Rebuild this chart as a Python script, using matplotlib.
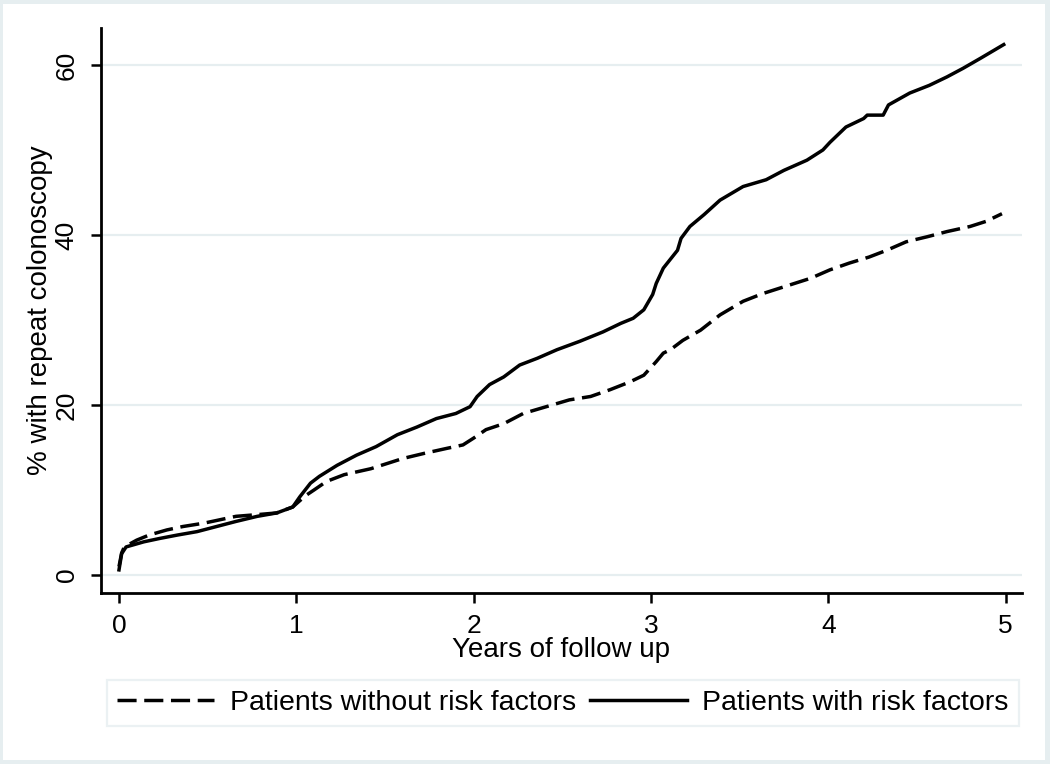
import matplotlib
matplotlib.use('Agg')
import matplotlib.pyplot as plt
from matplotlib.patches import Rectangle

# cumulative % with repeat colonoscopy
years_with = [0.0, 0.015, 0.04, 0.14, 0.23, 0.33, 0.44, 0.55, 0.66, 0.78, 0.89, 0.98,
              1.02, 1.08, 1.13, 1.23, 1.34, 1.45, 1.57, 1.68, 1.79, 1.90, 1.98,
              2.02, 2.09, 2.17, 2.26, 2.36, 2.47, 2.60, 2.73, 2.83, 2.90, 2.96,
              3.01, 3.03, 3.07, 3.15, 3.17, 3.22, 3.30, 3.39, 3.52, 3.65, 3.75, 3.88, 3.97,
              4.01, 4.10, 4.20, 4.22, 4.31, 4.34, 4.46, 4.57, 4.67, 4.76, 4.86, 4.99]
pct_with = [0.6, 2.5, 3.3, 3.9, 4.3, 4.7, 5.1, 5.7, 6.3, 6.9, 7.3, 8.0,
            9.2, 10.8, 11.6, 12.9, 14.1, 15.1, 16.5, 17.4, 18.4, 19.0, 19.8,
            21.0, 22.4, 23.3, 24.7, 25.5, 26.5, 27.5, 28.6, 29.6, 30.2, 31.2,
            33.0, 34.3, 36.1, 38.2, 39.6, 41.0, 42.4, 44.1, 45.7, 46.5, 47.6, 48.8, 50.0,
            50.9, 52.7, 53.7, 54.1, 54.1, 55.3, 56.7, 57.6, 58.6, 59.6, 60.8, 62.4]

years_without = [0.0, 0.015, 0.03, 0.10, 0.17, 0.27, 0.36, 0.48, 0.57, 0.66, 0.78, 0.89, 0.98,
                 1.05, 1.10, 1.17, 1.27, 1.42, 1.51, 1.60, 1.72, 1.85, 1.94,
                 2.00, 2.07, 2.17, 2.28, 2.41, 2.54, 2.66, 2.77, 2.88, 2.96,
                 3.03, 3.07, 3.11, 3.18, 3.28, 3.39, 3.52, 3.63, 3.75, 3.90,
                 4.01, 4.12, 4.23, 4.33, 4.44, 4.56, 4.67, 4.80, 4.89, 4.98]
pct_without = [1.0, 2.6, 3.3, 4.1, 4.7, 5.3, 5.7, 6.1, 6.5, 6.9, 7.1, 7.3, 8.0,
               9.3, 10.0, 11.0, 11.8, 12.5, 13.1, 13.7, 14.3, 14.9, 15.3,
               16.1, 17.1, 17.8, 19.0, 19.8, 20.6, 21.0, 21.8, 22.7, 23.5,
               25.1, 26.1, 26.5, 27.6, 28.8, 30.6, 32.2, 33.1, 33.9, 34.9,
               35.9, 36.7, 37.4, 38.2, 39.2, 39.8, 40.4, 41.0, 41.6, 42.5]

x_ticks = [0, 1, 2, 3, 4, 5]
y_ticks = [0, 20, 40, 60]
labels = ['Patients without risk factors', 'Patients with risk factors']

plt.rcParams['font.family'] = ['Liberation Sans', 'DejaVu Sans']
grid_col = '#e6eef0'

fig = plt.figure(figsize=(10.5, 7.64), dpi=100)
fig.patch.set_facecolor(grid_col)
# white graph region inside the thin light frame
fig.patches.append(Rectangle((3 / 1050, 4 / 764), 1042 / 1050, 756 / 764,
                             transform=fig.transFigure, facecolor='white',
                             edgecolor='none', zorder=-5))

ax = fig.add_axes([101 / 1050, 1 - 593 / 764, 921 / 1050, 565 / 764])
ax.set_zorder(2)
ax.set_facecolor('white')

l1, = ax.plot(years_without, pct_without, color='black', lw=2.5,
              dashes=(5.5, 2.2), dash_capstyle='butt')
l2, = ax.plot(years_with, pct_with, color='black', lw=2.5)

ax.set_xlim(-0.1015, 5.093)
ax.set_ylim(-2.12, 64.35)
ax.set_xticks(x_ticks)
ax.set_yticks(y_ticks)
ax.grid(axis='y', color=grid_col, lw=1.6)
ax.set_axisbelow(True)

for s in ['top', 'right']:
    ax.spines[s].set_visible(False)
for s in ['left', 'bottom']:
    ax.spines[s].set_linewidth(2.0)

ax.tick_params(axis='both', length=7, width=1.8, labelsize=19, direction='out')
ax.tick_params(axis='x', pad=8)
ax.tick_params(axis='y', pad=9)
for lab in ax.get_yticklabels():
    lab.set_rotation(90)
    lab.set_va('center')

ax.set_xlabel('Years of follow up', fontsize=20)
ax.xaxis.set_label_coords(0.5, -0.077)
ax.set_ylabel('% with repeat colonoscopy', fontsize=20)
ax.yaxis.set_label_coords(-0.052, 0.5)

leg = fig.legend([l1, l2], labels, loc='center', ncol=2,
                 bbox_to_anchor=(563 / 1050, 1 - 703 / 764),
                 fontsize=20.5, handlelength=3.4, handletextpad=0.55,
                 columnspacing=0.5, borderpad=0.35, fancybox=False, frameon=True)
leg.get_frame().set_edgecolor(grid_col)
leg.get_frame().set_linewidth(1.6)

fig.savefig('out.png', dpi=100, facecolor=fig.get_facecolor())
